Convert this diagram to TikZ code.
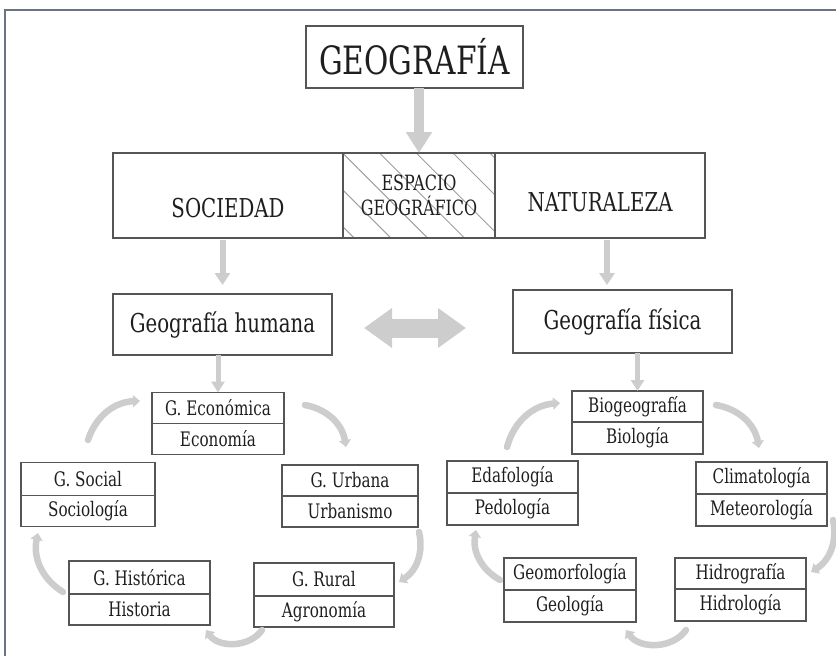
\documentclass[tikz,border=0pt]{standalone}
\usepackage{fontspec}
\setmainfont{DejaVu Serif}[FakeStretch=0.76]
\usetikzlibrary{arrows.meta,positioning,patterns.meta}

\definecolor{boxline}{RGB}{85,85,85}
\definecolor{arrowgray}{RGB}{205,205,205}
\definecolor{framegray}{RGB}{105,115,130}
\definecolor{txtgray}{RGB}{30,30,30}

\tikzset{every picture/.style={line width=0.75pt}}
\tikzset{
  bigbox/.style={draw=boxline, line width=1.5pt, inner sep=0pt, outer sep=0pt, text=txtgray},
  cell/.style={draw=boxline, line width=1.2pt, inner sep=0pt, outer sep=0pt, minimum height=31, text=txtgray, font=\fontsize{20}{22}\selectfont},
  mainflow/.style={draw=arrowgray, line width=10pt, -{Triangle[width=25pt,length=21pt]}},
  flow/.style={draw=arrowgray, line width=6pt, -{Triangle[width=15pt,length=12pt]}},
  dblflow/.style={draw=arrowgray, line width=19pt, {Triangle[width=38pt,length=28pt]}-{Triangle[width=38pt,length=28pt]}},
  cyc/.style={draw=arrowgray, line width=6.5pt, line cap=round, -{Triangle[width=12pt,length=7pt]}}
}

\begin{document}
\begin{tikzpicture}[x=1pt,y=1pt,yscale=-1,xscale=1]
        \useasboundingbox (0,0) rectangle (836,656);
        %Frame
        \draw[framegray, line width=1.5pt] (5,660) -- (5,10) -- (840,10);

        %Title
        \node[bigbox, minimum width=217, minimum height=62, font=\fontsize{39}{40}\selectfont] (geo) at (414.5,57) {GEOGRAFÍA};

        %Wide box
        \node[bigbox, minimum width=230, minimum height=85, text height=45pt, font=\fontsize{26}{28}\selectfont] (soc) at (228,195.5) {SOCIEDAD};
        \node[bigbox, minimum width=152, minimum height=85, align=center, font=\fontsize{21}{25}\selectfont,
              pattern={Lines[angle=-45, distance=26pt, line width=1pt]}, pattern color=gray!75, right=0pt of soc] (esp) {ESPACIO\\GEOGRÁFICO};
        \node[bigbox, minimum width=210, minimum height=85, text height=33pt, font=\fontsize{26}{28}\selectfont, right=0pt of esp] (nat) {NATURALEZA};

        %Branches
        \node[bigbox, minimum width=219, minimum height=61, font=\fontsize{26}{28}\selectfont] (hum) at (222.5,324.5) {Geografía humana};
        \node[bigbox, minimum width=219, minimum height=63, font=\fontsize{26}{28}\selectfont] (fis) at (622.5,321.5) {Geografía física};

        %Arrows
        \draw[mainflow] (geo.south -| esp.north) -- (esp.north);
        \draw[flow, shorten <=2pt, shorten >=9pt] (hum.north |- soc.south) -- (hum.north);
        \draw[flow, shorten <=2pt, shorten >=5pt] ([xshift=7]nat.south) -- ([xshift=7]nat.south |- fis.north);
        \draw[dblflow] ([xshift=32,yshift=3.5]hum.east) -- ([xshift=-47,yshift=6.5]fis.west);

        %Human geography cells
        \node[cell, minimum width=132] (eco) at (218,408) {G. Económica};
        \node[cell, minimum width=132, below=0pt of eco] (ecoB) {Economía};
        \node[cell, minimum width=134, minimum height=33] (soci) at (88,479) {G. Social};
        \node[cell, minimum width=134, below=0pt of soci] (sociB) {Sociología};
        \node[cell, minimum width=136] (urb) at (350,480.5) {G. Urbana};
        \node[cell, minimum width=136, below=0pt of urb] (urbB) {Urbanismo};
        \node[cell, minimum width=141, minimum height=33] (his) at (139.5,577.5) {G. Histórica};
        \node[cell, minimum width=141, below=0pt of his] (hisB) {Historia};
        \node[cell, minimum width=140, minimum height=33] (rur) at (324,579.5) {G. Rural};
        \node[cell, minimum width=140, below=0pt of rur] (rurB) {Agronomía};

        %Physical geography cells
        \node[cell, minimum width=131] (bio) at (637.5,406.5) {Biogeografía};
        \node[cell, minimum width=131, minimum height=32, below=0pt of bio] (bioB) {Biología};
        \node[cell, minimum width=131, minimum height=32] (eda) at (512.5,477) {Edafología};
        \node[cell, minimum width=131, minimum height=32, below=0pt of eda] (edaB) {Pedología};
        \node[cell, minimum width=131, minimum height=32] (cli) at (761.5,478) {Climatología};
        \node[cell, minimum width=131, minimum height=32, below=0pt of cli] (cliB) {Meteorología};
        \node[cell, minimum width=132, minimum height=32] (geom) at (570,574) {Geomorfología};
        \node[cell, minimum width=132, minimum height=32, below=0pt of geom] (geomB) {Geología};
        \node[cell, minimum width=131] (hid) at (740.5,573.5) {Hidrografía};
        \node[cell, minimum width=131, minimum height=32, below=0pt of hid] (hidB) {Hidrología};

        \draw[flow, line width=5pt, -{Triangle[width=13pt,length=11pt]}] (eco.north |- hum.south) -- (eco.north);
        \draw[flow, line width=5pt, -{Triangle[width=13pt,length=11pt]}] (bio.north |- fis.south) -- (bio.north);

        %Curve Lines, human cycle
        \draw[cyc] (88,440) to[bend right=35] (140,401);
        \draw[cyc] (305,405) to[bend right=35] (346,447);
        \draw[cyc] (419,532) to[bend right=35] (399,582);
        \draw[cyc] (262,630) to[bend right=55] (206,630);
        \draw[cyc] (63,592) to[bend right=35] (38,533);

        %Curve Lines, physical cycle
        \draw[cyc] (507,447) to[bend right=35] (560,403);
        \draw[cyc] (716,405) to[bend right=35] (759,448);
        \draw[cyc] (833,520) to[bend right=35] (811,572);
        \draw[cyc] (686,630) to[bend right=55] (626,630);
        \draw[cyc] (500,580) to[bend right=35] (476,530);

\end{tikzpicture}
\end{document}
